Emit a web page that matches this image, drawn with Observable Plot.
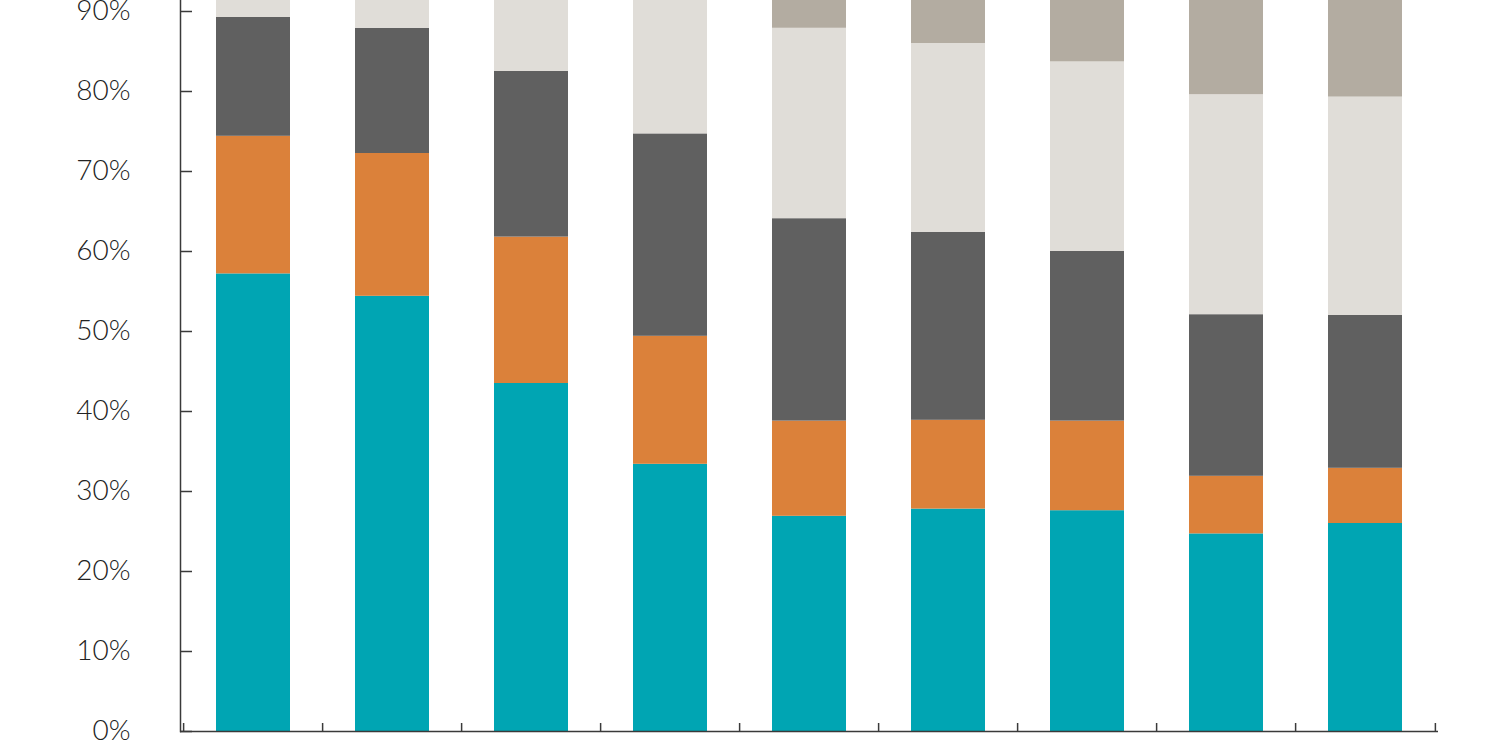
<!DOCTYPE html>
<html>
<head>
<meta charset="utf-8">
<script src="https://cdn.jsdelivr.net/npm/d3@7"></script>
<script src="https://cdn.jsdelivr.net/npm/@observablehq/plot@0.6"></script>
<style>
  html, body { margin: 0; padding: 0; background: #fff; overflow: hidden; }
</style>
</head>
<body>
<div id="chart"></div>
<script>
// Categories (labels are not visible in the cropped reference)
const categories = ["1", "2", "3", "4", "5", "6", "7", "8", "9"];
const seriesNames = ["Series A", "Series B", "Series C", "Series D", "Series E"];
const seriesColors = ["#00a5b3", "#db813a", "#606060", "#e0ddd8", "#b3aca1"];

// Values in percent, bottom to top
const seriesA = [57.2, 54.4, 43.5, 33.4, 26.9, 27.8, 27.6, 24.7, 26.0];
const seriesB = [17.2, 17.85, 18.3, 16.0, 11.9, 11.1, 11.2, 7.2, 6.9];
const seriesC = [14.85, 15.65, 20.7, 25.3, 25.3, 23.5, 21.2, 20.2, 19.1];
const seriesD = [6.75, 7.1, 11.5, 17.3, 23.8, 23.6, 23.7, 27.5, 27.3];
const seriesE = [4.0, 5.0, 6.0, 8.0, 12.1, 14.0, 16.3, 20.4, 20.7];

const yTicks = [0, 0.1, 0.2, 0.3, 0.4, 0.5, 0.6, 0.7, 0.8, 0.9];

const width = 1500, height = 750;
const marginLeft = 180, marginRight = 62, marginTop = 0, marginBottom = 19;
const step = (width - marginLeft - marginRight) / categories.length;
const plotH = height - marginTop - marginBottom;
const yTop = plotH / 800; // visible top of the (cropped) value axis

const seriesValues = [seriesA, seriesB, seriesC, seriesD, seriesE];
const data = [];
categories.forEach((c, i) => {
  seriesNames.forEach((s, k) => {
    data.push({category: c, series: s, value: seriesValues[k][i] / 100});
  });
});

const axisColor = "#3a3a3a";

const chart = Plot.plot({
  width, height, marginLeft, marginRight, marginTop, marginBottom,
  style: {fontFamily: "Lato, 'Noto Sans', sans-serif", fontSize: "28px", fontWeight: 300, color: "#222", background: "#fff"},
  x: {domain: categories, paddingInner: 0.47, paddingOuter: 0.235, axis: null},
  y: {domain: [0, yTop], axis: null},
  color: {domain: seriesNames, range: seriesColors},
  marks: [
    Plot.barY(data, {x: "category", y: "value", fill: "series", clip: true}),
    Plot.axisY({ticks: yTicks, tickFormat: d3.format(".0%"), label: null, tickSize: -12, tickPadding: 62, stroke: axisColor, strokeWidth: 1.5}),
    Plot.frame({anchor: "left", stroke: axisColor, strokeWidth: 1.5}),
    Plot.ruleY([0], {stroke: axisColor, strokeWidth: 1.5}),
    Plot.ruleX(categories, {x: d => d, y1: 0, y2: 0.01, dx: -step / 2, stroke: axisColor, strokeWidth: 1.5}),
    Plot.ruleX([categories[categories.length - 1]], {x: d => d, y1: 0, y2: 0.01, dx: step / 2, stroke: axisColor, strokeWidth: 1.5})
  ]
});
document.getElementById("chart").appendChild(chart);
</script>
</body>
</html>
